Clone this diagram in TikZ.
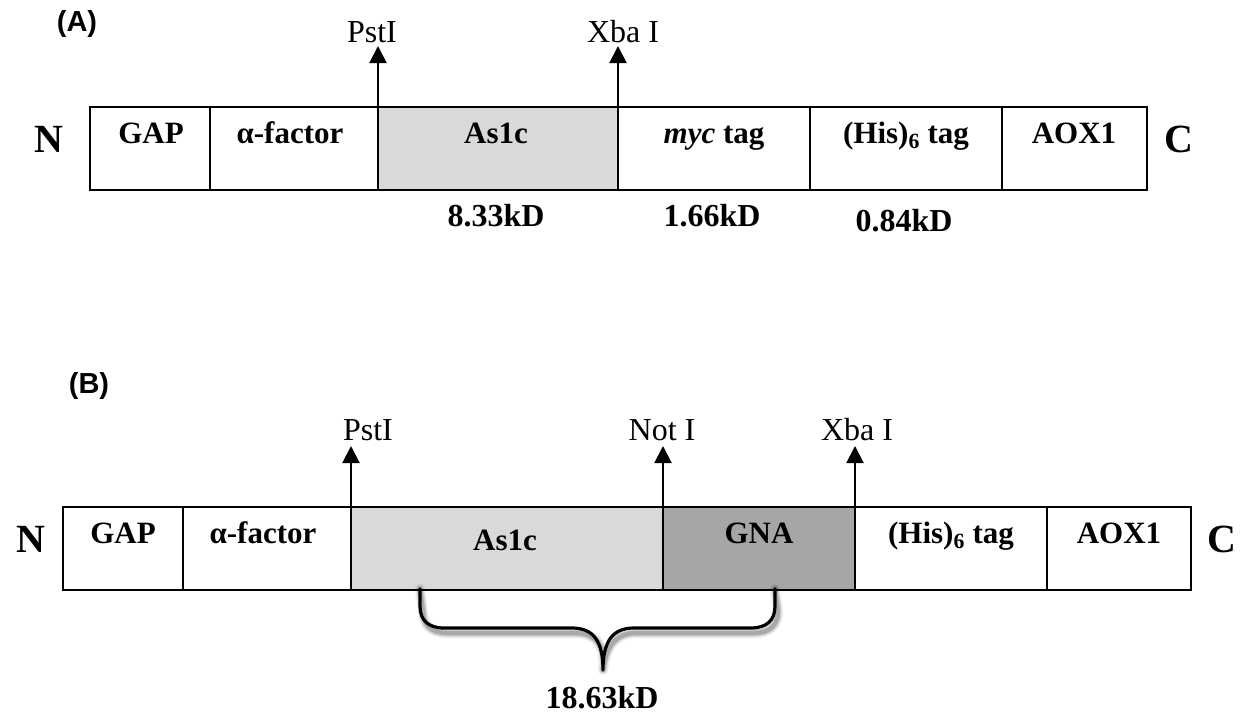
\documentclass[tikz,border=0pt]{standalone}
\usepackage{fontspec}
\setmainfont{Liberation Serif}
\newfontfamily\arialfont{Liberation Sans}
\usetikzlibrary{arrows.meta}
\definecolor{asgray}{RGB}{217,217,217}
\definecolor{gnagray}{RGB}{166,166,166}
\begin{document}
\begin{tikzpicture}[x=1pt,y=-1pt,
  seg/.style={draw=black, line width=2.2pt, fill=white, inner sep=0pt, outer sep=0pt,
    minimum height=83pt, anchor=north west},
  segtxt/.style={anchor=base, inner sep=0pt, font=\fontsize{31}{36}\selectfont\bfseries},
  kd/.style={anchor=base, inner sep=0pt, font=\fontsize{32}{36}\selectfont\bfseries},
  endtxt/.style={anchor=base, inner sep=0pt, font=\fontsize{40}{44}\selectfont\bfseries},
  site/.style={anchor=base, inner sep=0pt, font=\fontsize{32}{36}\selectfont},
  panel/.style={anchor=base, inner sep=0pt, font=\fontsize{29}{32}\selectfont\arialfont\bfseries},
  cut/.style={line width=2pt, -{Triangle[length=17pt,width=17pt]}},
  brace/.style={line width=3.2pt, line cap=round, line join=round}
]
\useasboundingbox (0,0) rectangle (1254,715);

% ---------------- Panel A ----------------
\node[panel] (labA) at (77,31) {(A)};
\node[seg, minimum width=120pt] (a1) at (90,107) {};
\node[seg, minimum width=168pt] (a2) at (210,107) {};
\node[seg, minimum width=240pt, fill=asgray] (a3) at (378,107) {};
\node[seg, minimum width=192pt] (a4) at (618,107) {};
\node[seg, minimum width=192pt] (a5) at (810,107) {};
\node[seg, minimum width=145pt] (a6) at (1002,107) {};

\node[segtxt] (ta1) at (151,143) {GAP};
\node[segtxt] (ta2) at (290,143) {α-factor};
\node[segtxt] (ta3) at (496,143) {As1c};
\node[segtxt] (ta4) at (714,143) {\textit{myc} tag};
\node[segtxt] (ta5) at (906,143) {(His)\textsubscript{6} tag};
\node[segtxt] (ta6) at (1074,143) {AOX1};

\node[endtxt] (nA) at (49,152) {N};
\node[endtxt] (cA) at (1179,152) {C};

\node[kd] (kdA1) at (496,226) {8.33kD};
\node[kd] (kdA2) at (712,226) {1.66kD};
\node[kd] (kdA3) at (904,231) {0.84kD};

\node[site] (pstA) at (372,42) {PstI};
\node[site] (xbaA) at (623,42) {Xba I};
\coordinate (pstAtip) at (378,46);
\coordinate (xbaAtip) at (618,46);
\draw[cut] (a3.north west) -- (pstAtip);
\draw[cut] (a4.north west) -- (xbaAtip);

% ---------------- Panel B ----------------
\node[panel] (labB) at (89,393) {(B)};
\node[seg, minimum width=120pt] (b1) at (63,507) {};
\node[seg, minimum width=168pt] (b2) at (183,507) {};
\node[seg, minimum width=312pt, fill=asgray] (b3) at (351,507) {};
\node[seg, minimum width=192pt, fill=gnagray] (b4) at (663,507) {};
\node[seg, minimum width=192pt] (b5) at (855,507) {};
\node[seg, minimum width=144pt] (b6) at (1047,507) {};

\node[segtxt] (tb1) at (123,543) {GAP};
\node[segtxt] (tb2) at (263,543) {α-factor};
\node[segtxt] (tb3) at (505,550) {As1c};
\node[segtxt] (tb4) at (759,543) {GNA};
\node[segtxt] (tb5) at (951,543) {(His)\textsubscript{6} tag};
\node[segtxt] (tb6) at (1119,543) {AOX1};

\node[endtxt] (nB) at (31,552) {N};
\node[endtxt] (cB) at (1222,552) {C};

\node[site] (pstB) at (368,440) {PstI};
\node[site] (notB) at (662,440) {Not I};
\node[site] (xbaB) at (857,440) {Xba I};
\coordinate (pstBtip) at (351,446);
\coordinate (notBtip) at (663,446);
\coordinate (xbaBtip) at (855,446);
\draw[cut] (b3.north west) -- (pstBtip);
\draw[cut] (b4.north west) -- (notBtip);
\draw[cut] (b5.north west) -- (xbaBtip);

% brace with soft shadow
\coordinate (brL) at (420,589);
\coordinate (brR) at (775,589);
\coordinate (brTip) at (603,670);
\foreach \w/\o in {10/0.08,7/0.12,4.5/0.18}{
  \draw[brace, line width=\w pt, draw=black, opacity=\o, shift={(3,5)}]
    (brL) -- (420,606) .. controls (420,620) and (428,628) .. (444,628)
    -- (572,628) .. controls (594,628) and (603,642) .. (brTip)
    .. controls (603,642) and (612,628) .. (634,628)
    -- (751,628) .. controls (767,628) and (775,620) .. (775,606) -- (brR);
}
\draw[brace]
    (brL) -- (420,606) .. controls (420,620) and (428,628) .. (444,628)
    -- (572,628) .. controls (594,628) and (603,642) .. (brTip)
    .. controls (603,642) and (612,628) .. (634,628)
    -- (751,628) .. controls (767,628) and (775,620) .. (775,606) -- (brR);
\node[kd] (kdB) at (602,708) {18.63kD};
\end{tikzpicture}
\end{document}
